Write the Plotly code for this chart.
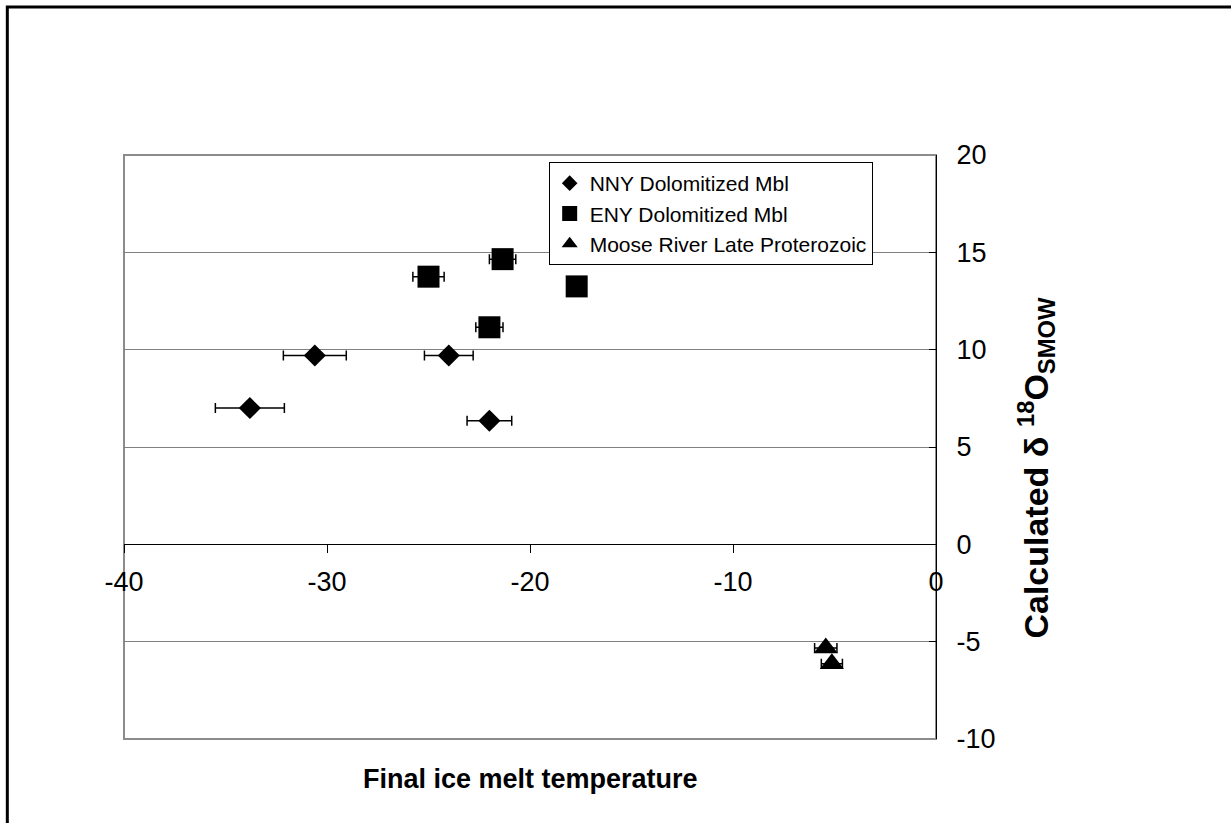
import plotly.graph_objects as go

# ---- data ----
nny_x = [-33.8, -30.6, -24.0, -22.0]
nny_y = [7.0, 9.7, 9.7, 6.35]
nny_err = [1.7, 1.55, 1.2, 1.1]

eny_x = [-21.35, -25.0, -17.7, -22.0]
eny_y = [14.65, 13.75, 13.25, 11.15]
eny_err = [0.65, 0.77, 0.4, 0.67]

moose_x = [-5.43, -5.13]
moose_y = [-5.32, -6.13]
moose_err = [0.55, 0.52]

series_names = ["NNY Dolomitized Mbl", "ENY Dolomitized Mbl", "Moose River Late Proterozoic"]
x_ticks = [-40, -30, -20, -10, 0]
x_ticklabels = ["-40", "-30", "-20", "-10", "0"]
y_ticks = [-10, -5, 0, 5, 10, 15, 20]
y_ticklabels = ["-10", "-5", "0", "5", "10", "15", "20"]

FONT = "Arial, Liberation Sans, sans-serif"

fig = go.Figure()

def err(vals):
    return dict(type="data", array=vals, visible=True, color="black", thickness=1.5, width=5)

fig.add_trace(go.Scatter(x=nny_x, y=nny_y, mode="markers", name=series_names[0], showlegend=False,
                         marker=dict(symbol="diamond", size=17, color="black"), error_x=err(nny_err)))
fig.add_trace(go.Scatter(x=eny_x, y=eny_y, mode="markers", name=series_names[1], showlegend=False,
                         marker=dict(symbol="square", size=22, color="black"), error_x=err(eny_err)))
fig.add_trace(go.Scatter(x=moose_x, y=moose_y, mode="markers", name=series_names[2], showlegend=False,
                         marker=dict(symbol="triangle-up", size=21, color="black"), error_x=err(moose_err)))

# legend entries (smaller symbols as in the reference legend)
for nm, sym, sz in zip(series_names, ["diamond", "square", "triangle-up"], [12, 15, 14]):
    fig.add_trace(go.Scatter(x=[None], y=[None], mode="markers", name=nm,
                             marker=dict(symbol=sym, size=sz, color="black")))

fig.update_layout(
    width=1231, height=823,
    margin=dict(l=124, r=295, t=155, b=84),
    paper_bgcolor="white", plot_bgcolor="white",
    font=dict(family=FONT, color="black"),
    showlegend=True,
    legend=dict(x=0.523, y=0.988, xanchor="left", yanchor="top",
                bgcolor="white", bordercolor="black", borderwidth=1,
                font=dict(size=21, family=FONT, color="black"),
                tracegroupgap=0, itemwidth=30),
    xaxis=dict(range=[-40, 0], tickvals=x_ticks, ticktext=x_ticklabels, showgrid=False, zeroline=False,
               showline=True, linecolor="black", linewidth=1,
               ticks="outside", ticklen=8, tickcolor="black", ticklabelstandoff=5,
               anchor="free", position=1/3, tickfont=dict(size=27, family=FONT, color="black")),
    yaxis=dict(range=[-10, 20], tickvals=y_ticks, ticktext=y_ticklabels, side="right", showgrid=True,
               gridcolor="#808080", gridwidth=1, zeroline=False,
               showline=True, linecolor="black", linewidth=1,
               ticks="inside", ticklen=7, tickcolor="black", ticklabelstandoff=14,
               tickfont=dict(size=27, family=FONT, color="black")),
    shapes=[
        dict(type="rect", xref="paper", yref="paper", x0=0, x1=1, y0=0, y1=1,
             line=dict(color="#8c8c8c", width=2), layer="below"),
        dict(type="rect", xref="paper", yref="paper", x0=-0.1437, x1=1.4, y0=1.2534, y1=-0.2,
             line=dict(color="black", width=3), layer="above"),
    ],
    annotations=[
        dict(text="<b>Final ice melt temperature</b>", xref="paper", yref="paper",
             x=0.5, y=-0.0685, xanchor="center", yanchor="middle", showarrow=False,
             font=dict(size=27, family=FONT, color="black")),
        dict(text="<b>Calculated δ <sup>18</sup>O<sub>SMOW</sub></b>", xref="paper", yref="paper",
             x=1.1226, y=0.464, xanchor="center", yanchor="middle", textangle=-90, showarrow=False,
             font=dict(size=34, family=FONT, color="black")),
    ],
)

fig.write_html("out.html", config={"displayModeBar": False},
               post_script="document.body.style.margin='0px';")
